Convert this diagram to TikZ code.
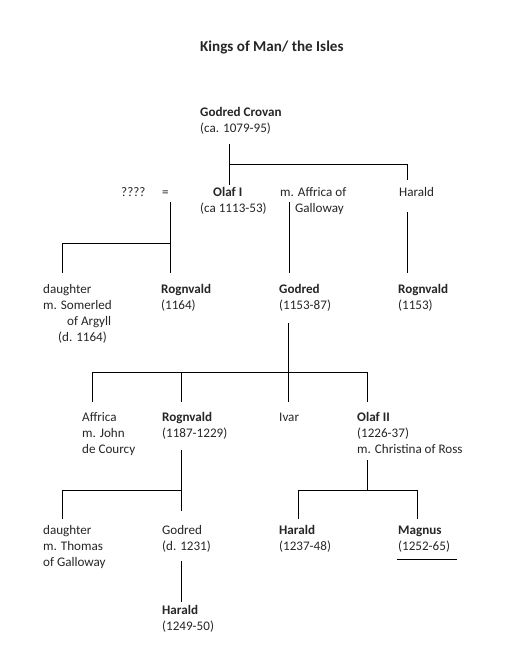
\documentclass[tikz,border=0pt]{standalone}
\usepackage{fontspec}
\setmainfont{Carlito}
\begin{document}
\begin{tikzpicture}[x=1pt,y=-1pt,
  txt/.style={anchor=base west,inner sep=0pt,align=left,font=\fontsize{13.1}{16}\selectfont,text=black!85},
  ttl/.style={anchor=base west,inner sep=0pt,font=\fontsize{15.1}{18}\selectfont\bfseries,text=black!85},
  ln/.style={line width=1pt,black}]
\useasboundingbox[fill=white] (0,0) rectangle (525,669);
% title (base anchor = baseline of last line)
\node[ttl] (title) at (200,52) {Kings of Man/ the Isles};
% row 0
\node[txt] (gc) at (200,132) {\textbf{Godred Crovan}\\(ca. 1079-95)};
% row 1
\node[txt] (q) at (121,196) {????};
\node[txt] (eq) at (162,196) {=};
\node[txt] (olaf) at (200,212) {\hspace{13pt}\textbf{Olaf I}\\(ca 1113-53)};
\node[txt] (affr) at (280,212) {m. Affrica of\\\hspace{15pt}Galloway};
\node[txt] (har1) at (399,196) {Harald};
% row 2
\node[txt] (dau1) at (43,341) {daughter\\m. Somerled\\\hspace{24pt}of Argyll\\\hspace{15pt}(d. 1164)};
\node[txt] (rog1) at (161,309) {\textbf{Rognvald}\\(1164)};
\node[txt] (god1) at (279,309) {\textbf{Godred}\\(1153-87)};
\node[txt] (rog2) at (398,309) {\textbf{Rognvald}\\(1153)};
% row 3
\node[txt] (affr2) at (82,453) {Affrica\\m. John\\de Courcy};
\node[txt] (rog3) at (162,437) {\textbf{Rognvald}\\(1187-1229)};
\node[txt] (ivar) at (279,421) {Ivar};
\node[txt] (olaf2) at (357,453) {\textbf{Olaf II}\\(1226-37)\\m. Christina of Ross};
% row 4
\node[txt] (dau2) at (43,566) {daughter\\m. Thomas\\of Galloway};
\node[txt] (god2) at (162,550) {Godred\\(d. 1231)};
\node[txt] (har2) at (279,550) {\textbf{Harald}\\(1237-48)};
\node[txt] (mag) at (398,550) {\textbf{Magnus}\\(1252-65)};
% row 5
\node[txt] (har3) at (162,630) {\textbf{Harald}\\(1249-50)};
% coordinates
\coordinate (a0) at (229,144);
\coordinate (a1) at (229,164);
\coordinate (a2) at (229,185);
\coordinate (a3) at (407,164);
\coordinate (a4) at (407,180);
\coordinate (b0) at (407,212);
\coordinate (b1) at (407,273);
\coordinate (c0) at (170,202);
\coordinate (c1) at (170,243);
\coordinate (c2) at (170,273);
\coordinate (c3) at (62,243);
\coordinate (c4) at (62,273);
\coordinate (d0) at (289,202);
\coordinate (d1) at (289,273);
\coordinate (e0) at (288,323);
\coordinate (e1) at (288,372);
\coordinate (e2) at (288,402);
\coordinate (e3) at (92,372);
\coordinate (e4) at (92,402);
\coordinate (e5) at (181,372);
\coordinate (e6) at (181,402);
\coordinate (e7) at (367,372);
\coordinate (e8) at (367,402);
\coordinate (f0) at (181,450);
\coordinate (f1) at (181,490);
\coordinate (f2) at (181,511);
\coordinate (f3) at (62,490);
\coordinate (f4) at (62,519);
\coordinate (g0) at (367,460);
\coordinate (g1) at (367,490);
\coordinate (g2) at (298,490);
\coordinate (g3) at (298,519);
\coordinate (g4) at (417,490);
\coordinate (g5) at (417,519);
\coordinate (h0) at (181,561);
\coordinate (h1) at (181,602);
\coordinate (u0) at (397,559);
\coordinate (u1) at (457,559);
% lines
\draw[ln] (a0) -- (a2);
\draw[ln] (a1) -- (a3) -- (a4);
\draw[ln] (b0) -- (b1);
\draw[ln] (c0) -- (c2);
\draw[ln] (c1) -- (c3) -- (c4);
\draw[ln] (d0) -- (d1);
\draw[ln] (e0) -- (e2);
\draw[ln] (e4) -- (e3) -- (e7) -- (e8);
\draw[ln] (e5) -- (e6);
\draw[ln] (f0) -- (f2);
\draw[ln] (f1) -- (f3) -- (f4);
\draw[ln] (g0) -- (g1);
\draw[ln] (g3) -- (g2) -- (g4) -- (g5);
\draw[ln] (h0) -- (h1);
\draw[ln] (u0) -- (u1);
\end{tikzpicture}
\end{document}
